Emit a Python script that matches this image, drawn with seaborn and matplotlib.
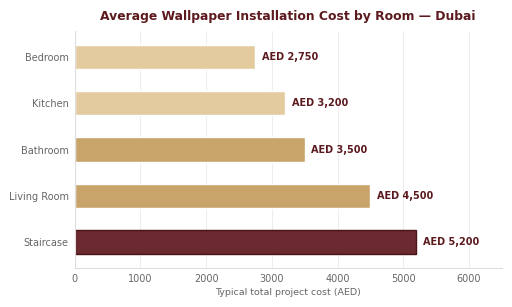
import matplotlib
matplotlib.use("Agg")
from matplotlib import pyplot as plt
import pandas as pd
import seaborn as sns

# data
rooms = ["Bedroom", "Kitchen", "Bathroom", "Living Room", "Staircase"]
costs = [2750, 3200, 3500, 4500, 5200]
bar_colours = ["#E3CB9F", "#E3CB9F", "#C9A46A", "#C9A46A", "#6B2A2F"]

df = pd.DataFrame({"Room": rooms, "Cost": costs})

sns.set_theme(style="whitegrid")
plt.rcParams["font.family"] = ["DejaVu Sans"]

fig = plt.figure(figsize=(5.12, 3.07), dpi=100)
ax = fig.add_axes([0.146, 0.127, 0.834, 0.772])

sns.barplot(data=df, x="Cost", y="Room", hue="Room", palette=bar_colours,
            legend=False, width=0.52, ax=ax, saturation=1)

# darker outline only on the highlighted bar
ax.patches[-1].set_edgecolor("#4A1418")
ax.patches[-1].set_linewidth(1.0)

for i, v in enumerate(costs):
    ax.text(v + 100, i, f"AED {v:,}", va="center", ha="left",
            fontsize=7, fontweight="bold", color="#5C1A1E")

ax.set_xlim(0, 6500)
ax.set_ylim(4.56, -0.56)
ax.grid(axis="y", visible=False)
ax.grid(axis="x", color="#EEEEEE", linewidth=0.8)
for side in ["top", "right"]:
    ax.spines[side].set_visible(False)
for side in ["left", "bottom"]:
    ax.spines[side].set_color("#DDDDDD")
    ax.spines[side].set_linewidth(0.8)

ax.tick_params(axis="both", labelsize=7, colors="#666666", length=2.5,
               width=0.6, pad=2)
ax.tick_params(axis="both", color="#BBBBBB")
ax.set_ylabel("")
ax.set_xlabel("Typical total project cost (AED)", fontsize=6.8, color="#666666",
              labelpad=2.5)
fig.suptitle("Average Wallpaper Installation Cost by Room — Dubai",
             x=0.562, y=0.968, fontsize=8.9, fontweight="bold", color="#5C1A1E")

fig.savefig("out.png", dpi=100)
